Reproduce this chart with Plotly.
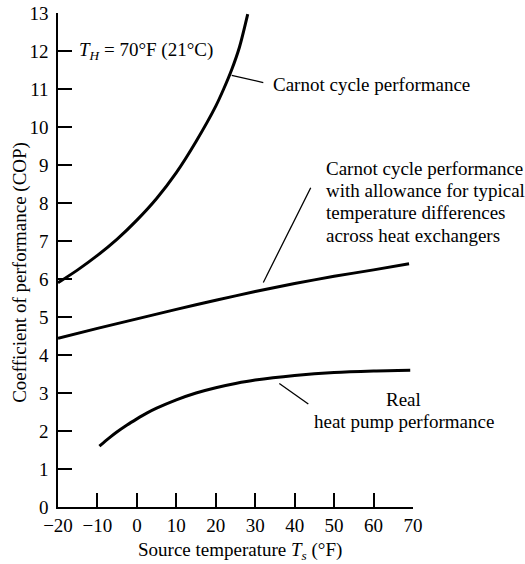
import plotly.graph_objects as go

# Data
carnot_x = [-20, -15, -10, -5, 0, 5, 10, 15, 20, 22, 24, 26, 28.1]
carnot_y = [5.90, 6.24, 6.62, 7.05, 7.55, 8.12, 8.80, 9.62, 10.55, 11.0, 11.5, 12.1, 12.97]

allow_x = [-20, -10, 0, 10, 20, 30, 40, 50, 60, 69]
allow_y = [4.44, 4.70, 4.95, 5.20, 5.44, 5.67, 5.88, 6.07, 6.24, 6.40]

real_x = [-9.5, -7, -5, -2.5, 0, 2.5, 5, 10, 15, 20, 25, 30, 40, 50, 60, 69.3]
real_y = [1.60, 1.82, 1.98, 2.16, 2.32, 2.47, 2.60, 2.82, 3.00, 3.14, 3.25, 3.34, 3.46, 3.54, 3.58, 3.60]

x_ticks = [-20, -10, 0, 10, 20, 30, 40, 50, 60, 70]
y_ticks = list(range(0, 14))

FONT = "Liberation Serif"
FS = 19

fig = go.Figure()
for xs, ys in [(carnot_x, carnot_y), (allow_x, allow_y), (real_x, real_y)]:
    fig.add_trace(go.Scatter(x=xs, y=ys, mode="lines",
                             line=dict(color="black", width=3, shape="spline", smoothing=0.8),
                             showlegend=False, hoverinfo="skip"))

# leader lines
leaders = [
    (24.04, 11.36, 32.05, 11.17),
    (32.05, 5.91, 44.07, 8.40),
    (36.11, 3.25, 43.46, 2.71),
]
for x0, y0, x1, y1 in leaders:
    fig.add_shape(type="line", x0=x0, y0=y0, x1=x1, y1=y1, xref="x", yref="y",
                  line=dict(color="black", width=1.3))

ann = []
def add(text, x, y, xanchor="left", xref="x", yref="y", angle=0):
    ann.append(dict(text=text, x=x, y=y, xref=xref, yref=yref, xanchor=xanchor,
                    yanchor="middle", showarrow=False, textangle=angle,
                    font=dict(family=FONT, size=FS, color="black")))

add("<i>T<sub>H</sub></i> = 70°F (21°C)", -15.2, 12.0)
add("Carnot cycle performance", 34.0, 11.12)
mid_lines = ["Carnot cycle performance", "with allowance for typical",
             "temperature differences", "across heat exchangers"]
mid_y = [8.92, 8.33, 7.75, 7.15]
for t, yy in zip(mid_lines, mid_y):
    add(t, 47.4, yy)
add("Real", 67.7, 2.84, xanchor="center")
add("heat pump performance", 67.7, 2.25, xanchor="center")

add("Coefficient of performance (COP)", -0.107, 0.474, xanchor="center",
    xref="paper", yref="paper", angle=-90)
add("Source temperature <i>T<sub>s</sub></i> (°F)", 0.513, -0.089, xanchor="center",
    xref="paper", yref="paper")

fig.update_layout(
    width=525, height=564,
    margin=dict(l=58, r=112, t=13, b=57),
    paper_bgcolor="white", plot_bgcolor="white",
    font=dict(family=FONT, size=FS, color="black"),
    annotations=ann,
    showlegend=False,
)
fig.update_xaxes(range=[-20, 70], tickvals=x_ticks, ticks="inside", ticklen=14,
                 tickwidth=1.5, tickcolor="black", showline=True, linecolor="black",
                 linewidth=1.5, showgrid=False, zeroline=False, automargin=False,
                 tickfont=dict(family=FONT, size=FS, color="black"))
fig.update_yaxes(range=[0, 13], tickvals=y_ticks, ticks="inside", ticklen=14,
                 tickwidth=1.5, tickcolor="black", showline=True, linecolor="black",
                 linewidth=1.5, showgrid=False, zeroline=False, automargin=False,
                 ticklabelstandoff=4,
                 tickfont=dict(family=FONT, size=FS, color="black"))

fig.write_html("out.html")
